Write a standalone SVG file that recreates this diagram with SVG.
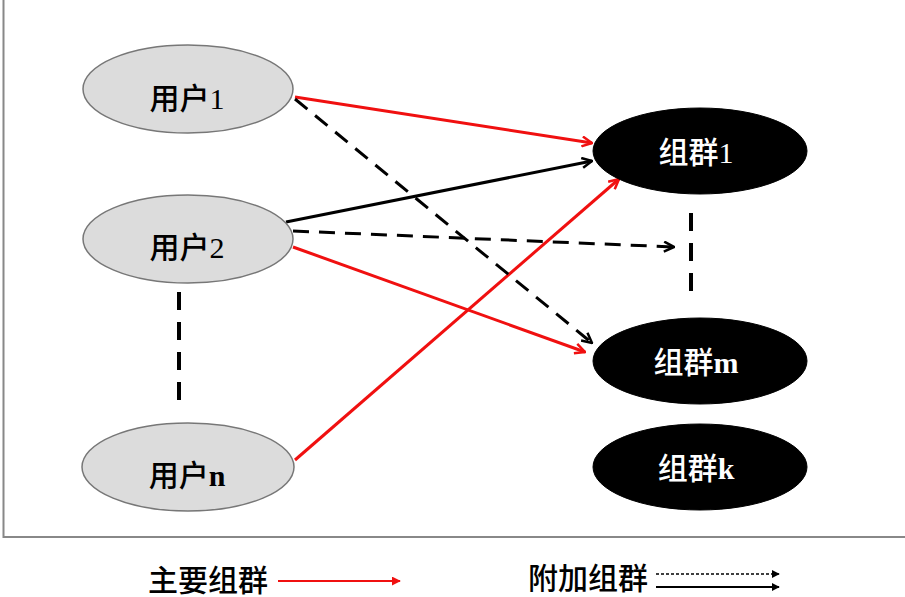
<svg xmlns="http://www.w3.org/2000/svg" width="905" height="597" viewBox="0 0 905 597">
<style>
.user ellipse{fill:#dcdcdc;stroke:#777;stroke-width:1.5}
.grp ellipse{fill:#000;stroke:#000}
text{font-family:"Liberation Serif","Noto Sans CJK SC",serif;font-size:30px;font-weight:500;text-anchor:middle}
.b{font-weight:bold}
.grp text{fill:#fff}
.red{stroke:#f01010;stroke-width:3;fill:none}
.blk{stroke:#000;stroke-width:3;fill:none}
.dash{stroke:#000;stroke-width:3;fill:none;stroke-dasharray:16 10}
.vdash{stroke:#000;stroke-width:4;fill:none;stroke-dasharray:18 12}
</style>
<defs>
<marker id="ar" viewBox="0 0 12 12" refX="11" refY="6" markerWidth="12" markerHeight="12" markerUnits="userSpaceOnUse" orient="auto">
<path d="M1,1 L11,6 L1,11" fill="none" stroke="#f01010" stroke-width="2.5"/>
</marker>
<marker id="ab" viewBox="0 0 12 12" refX="11" refY="6" markerWidth="12" markerHeight="12" markerUnits="userSpaceOnUse" orient="auto">
<path d="M1,1 L11,6 L1,11" fill="none" stroke="#000" stroke-width="2.5"/>
</marker>
<marker id="tri" viewBox="0 0 10 10" refX="9" refY="5" markerWidth="8" markerHeight="8" markerUnits="userSpaceOnUse" orient="auto">
<path d="M0,0 L10,5 L0,10 Z" fill="#000"/>
</marker>
<marker id="trir" viewBox="0 0 10 10" refX="9" refY="5" markerWidth="9" markerHeight="9" markerUnits="userSpaceOnUse" orient="auto">
<path d="M0,0 L10,5 L0,10 Z" fill="#f01010"/>
</marker>
</defs>
<rect x="3.5" y="-5" width="910" height="542" fill="#fff" stroke="#888" stroke-width="2"/>
<g id="connectors">
<line class="red" x1="295" y1="97" x2="592" y2="143" marker-end="url(#ar)"/>
<line class="blk" x1="286" y1="222" x2="592" y2="161" marker-end="url(#ab)"/>
<line class="red" x1="295" y1="460" x2="619" y2="179" marker-end="url(#ar)"/>
<line class="dash" x1="295" y1="99" x2="592" y2="343" marker-end="url(#ab)"/>
<line class="red" x1="293" y1="247" x2="585" y2="352" marker-end="url(#ar)"/>
<line class="dash" x1="293" y1="231" x2="674" y2="247" marker-end="url(#ab)"/>
<line class="vdash" x1="179" y1="292" x2="179" y2="408"/>
<line class="vdash" x1="691" y1="213" x2="691" y2="298"/>
</g>
<g id="user1" class="user"><ellipse cx="188" cy="89" rx="105" ry="44"/><text x="187" y="109">用户1</text></g>
<g id="user2" class="user"><ellipse cx="188" cy="239" rx="105" ry="44"/><text x="187" y="258">用户2</text></g>
<g id="usern" class="user"><ellipse cx="188" cy="467" rx="106" ry="44"/><text x="187" y="486">用户<tspan class="b">n</tspan></text></g>
<g id="group1" class="grp"><ellipse cx="700" cy="151" rx="107" ry="43"/><text x="696" y="163">组群1</text></g>
<g id="groupm" class="grp"><ellipse cx="700" cy="361" rx="107" ry="43"/><text x="696" y="373">组群<tspan class="b">m</tspan></text></g>
<g id="groupk" class="grp"><ellipse cx="700" cy="467" rx="107" ry="43"/><text x="696" y="479">组群<tspan class="b">k</tspan></text></g>
<g id="legend">
<text x="208" y="591">主要组群</text>
<line x1="278" y1="581" x2="400" y2="581" stroke="#f01010" stroke-width="2" marker-end="url(#trir)"/>
<text x="588" y="589">附加组群</text>
<line x1="656" y1="574" x2="779" y2="574" stroke="#000" stroke-width="1.5" stroke-dasharray="3 2" marker-end="url(#tri)"/>
<line x1="656" y1="587" x2="779" y2="587" stroke="#000" stroke-width="2" marker-end="url(#tri)"/>
</g>
</svg>
